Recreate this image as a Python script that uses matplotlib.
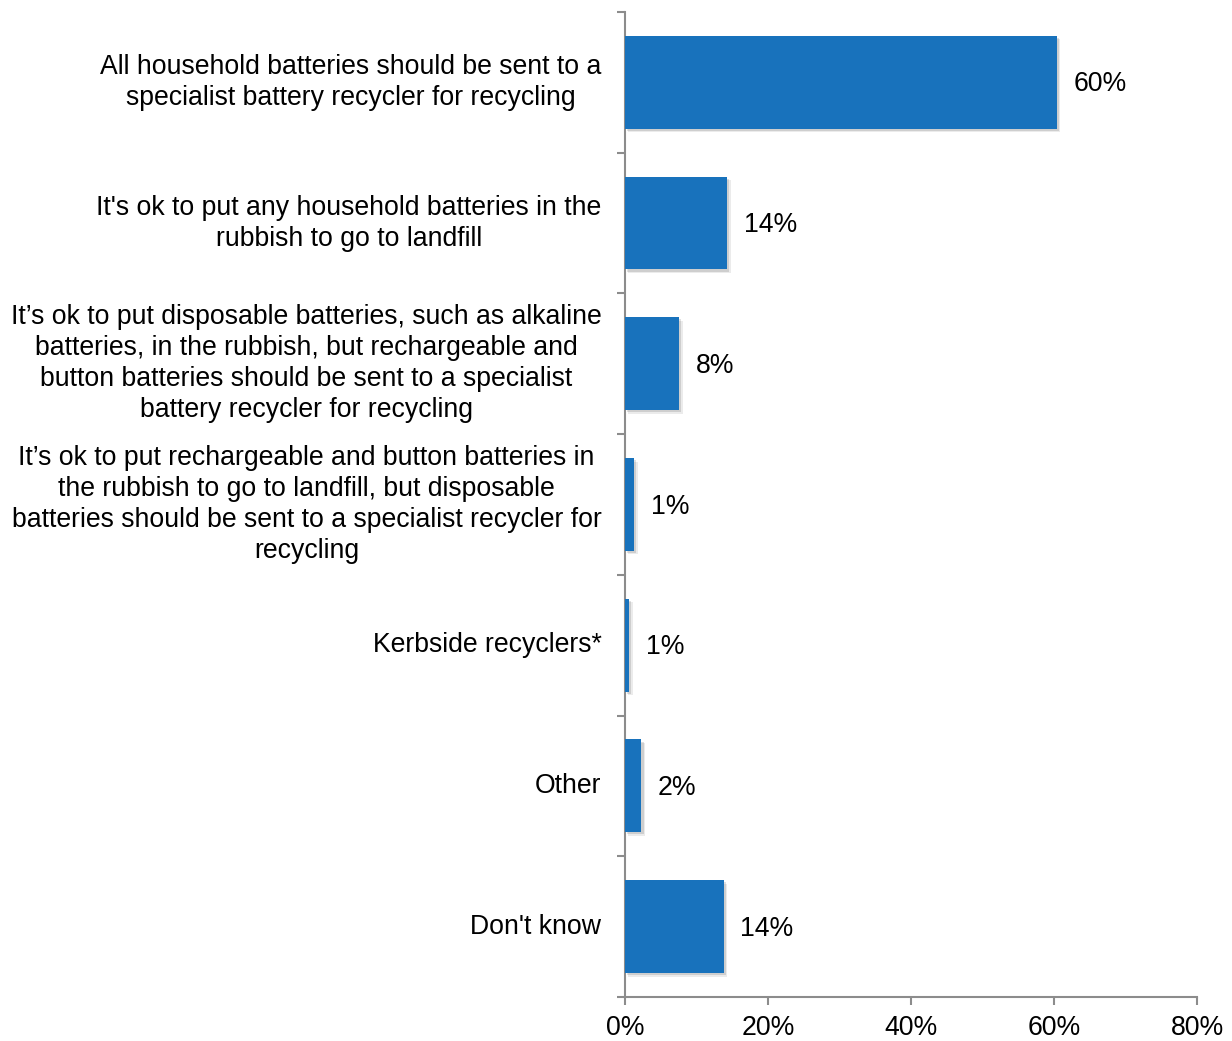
import matplotlib
matplotlib.use("Agg")
import matplotlib.pyplot as plt
import matplotlib.patheffects as pe
import numpy as np

plt.rcParams["font.family"] = ["Liberation Sans", "DejaVu Sans"]

categories = [
    "All household batteries should be sent to a\nspecialist battery recycler for recycling",
    "It's ok to put any household batteries in the\nrubbish to go to landfill",
    "It\u2019s ok to put disposable batteries, such as alkaline\nbatteries, in the rubbish, but rechargeable and\nbutton batteries should be sent to a specialist\nbattery recycler for recycling",
    "It\u2019s ok to put rechargeable and button batteries in\nthe rubbish to go to landfill, but disposable\nbatteries should be sent to a specialist recycler for\nrecycling",
    "Kerbside recyclers*",
    "Other",
    "Don't know",
]
values = [60.4, 14.3, 7.6, 1.3, 0.6, 2.3, 13.8]
xticks = [0, 20, 40, 60, 80]

bar_color = "#1872bc"
axis_color = "#8c8c8c"
fs = 19.2

fig = plt.figure(figsize=(12.32, 10.41), dpi=100)
ax = fig.add_axes([0.5073, 0.0423, 0.4643, 0.9462])

n = len(categories)
ypos = np.arange(n)
bars = ax.barh(ypos, values, height=0.66, color=bar_color, zorder=3)
for b in bars:
    b.set_path_effects([
        pe.SimplePatchShadow(offset=(2.5, -2.5), shadow_rgbFace="#000000", alpha=0.08),
        pe.SimplePatchShadow(offset=(1.5, -1.5), shadow_rgbFace="#000000", alpha=0.12),
        pe.Normal(),
    ])

for y, v in zip(ypos, values):
    ax.annotate(f"{v:.0f}%", (v, y), xytext=(12, -1.5), textcoords="offset points",
                ha="left", va="center", fontsize=fs, color="black")

ax.set_xlim(0, 80)
ax.set_ylim(n - 0.5, -0.5)

ax.set_xticks(xticks)
ax.set_xticklabels([f"{t}%" for t in xticks], fontsize=fs)
ax.tick_params(axis="x", direction="out", length=6, width=1.5, color=axis_color, pad=7)

ax.set_yticks(ypos)
ax.set_yticklabels([])
ax.tick_params(axis="y", which="major", length=0)
ax.set_yticks(np.arange(n + 1) - 0.5, minor=True)
ax.tick_params(axis="y", which="minor", direction="out", length=6, width=1.5, color=axis_color)

for y, c in zip(ypos, categories):
    ax.annotate(c, (0, y), xytext=(-17, 0), textcoords="offset points",
                ha="right", va="center", multialignment="center",
                fontsize=fs, color="black", linespacing=1.25)

for side in ["top", "right"]:
    ax.spines[side].set_visible(False)
for side in ["left", "bottom"]:
    ax.spines[side].set_color(axis_color)
    ax.spines[side].set_linewidth(1.5)

fig.savefig("out.png", dpi=100, facecolor="white")
